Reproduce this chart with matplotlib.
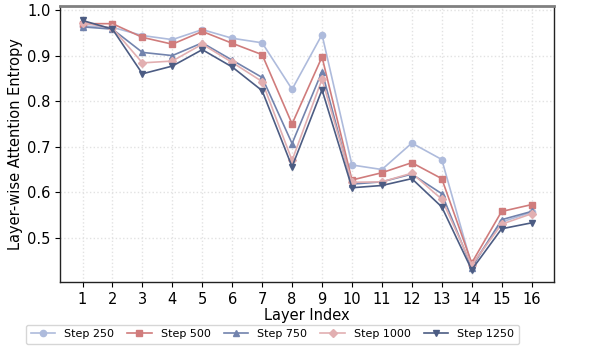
import matplotlib
matplotlib.use("Agg")
import matplotlib.pyplot as plt

layers = list(range(1, 17))
step250 = [0.965, 0.962, 0.944, 0.935, 0.957, 0.938, 0.928, 0.826, 0.946, 0.660, 0.650, 0.708, 0.672, 0.440, 0.535, 0.556]
step500 = [0.970, 0.970, 0.940, 0.925, 0.953, 0.927, 0.902, 0.750, 0.897, 0.627, 0.643, 0.665, 0.630, 0.445, 0.558, 0.573]
step750 = [0.963, 0.958, 0.907, 0.900, 0.928, 0.890, 0.852, 0.707, 0.865, 0.618, 0.623, 0.640, 0.597, 0.435, 0.540, 0.558]
step1000 = [0.972, 0.960, 0.884, 0.888, 0.925, 0.885, 0.843, 0.670, 0.848, 0.622, 0.623, 0.642, 0.585, 0.440, 0.530, 0.553]
step1250 = [0.977, 0.958, 0.860, 0.877, 0.913, 0.875, 0.823, 0.656, 0.825, 0.610, 0.615, 0.630, 0.568, 0.430, 0.520, 0.533]

series = [
    ("Step 250", step250, "o", "#aebbdc"),
    ("Step 500", step500, "s", "#d07c7c"),
    ("Step 750", step750, "^", "#7283ad"),
    ("Step 1000", step1000, "D", "#e2afb1"),
    ("Step 1250", step1250, "v", "#4c5c83"),
]

fig = plt.figure(figsize=(5.89, 3.47), dpi=100)
ax = fig.add_axes([0.102, 0.187, 0.8386, 0.796])

for name, vals, m, c in series:
    ax.plot(layers, vals, marker=m, color=c, label=name, linewidth=1.2,
            markersize=4.5 if m != "D" else 4)

ax.set_xlim(0.25, 16.75)
ax.set_ylim(0.403, 1.009)
ax.set_xticks(layers)
ax.set_yticks([0.5, 0.6, 0.7, 0.8, 0.9, 1.0])
ax.tick_params(labelsize=10.5)
ax.grid(True, linestyle=":", color="#e2e2e2", linewidth=1.0)
ax.set_axisbelow(True)
ax.set_xlabel("Layer Index", fontsize=10.5, labelpad=1)
ax.set_ylabel("Layer-wise Attention Entropy", fontsize=10.5, labelpad=3)

ax.spines["top"].set_color("#808080")
ax.spines["top"].set_linewidth(2)
for s in ["left", "right", "bottom"]:
    ax.spines[s].set_color("#222222")
    ax.spines[s].set_linewidth(1.0)

ax.legend(loc="upper center", bbox_to_anchor=(0.43, -0.155), ncol=5,
          fontsize=8, frameon=True, handlelength=2.2, columnspacing=1.2,
          borderaxespad=0, handletextpad=0.8)

fig.savefig("out.png", dpi=100)
